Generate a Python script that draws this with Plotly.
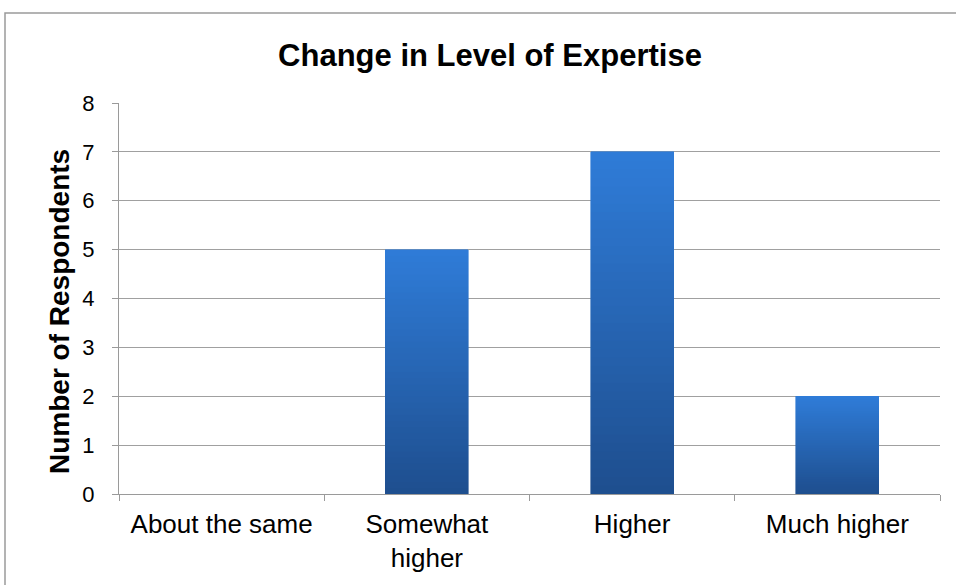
import plotly.graph_objects as go

categories = ["About the same", "Somewhat<br>higher", "Higher", "Much higher"]
respondents = [0, 5, 7, 2]
y_ticks = [0, 1, 2, 3, 4, 5, 6, 7, 8]

title_text = "Change in Level of Expertise"
y_title = "Number of Respondents"

FONT = "Liberation Sans, Arial, sans-serif"
top_rgb = (47, 124, 216)
bottom_rgb = (30, 78, 142)
N = 40

fig = go.Figure()
for k in range(N):
    t = (k + 0.5) / N
    c = tuple(round(bottom_rgb[i] + (top_rgb[i] - bottom_rgb[i]) * t) for i in range(3))
    col = "rgb(%d,%d,%d)" % c
    fig.add_trace(go.Bar(
        x=categories,
        y=[v / N for v in respondents],
        marker=dict(color=col, line=dict(color=col, width=0.6)),
        showlegend=False,
        hoverinfo="skip",
    ))

# plot-area pixel geometry
W, H = 956, 585
L, R, T, B = 119, 16, 103, 91
pw, ph = W - L - R, H - T - B

def px_x(p):
    return (p - L) / pw

def px_y(p):
    return (H - B - p) / ph

fig.update_layout(
    width=W, height=H,
    margin=dict(l=L, r=R, t=T, b=B, autoexpand=False),
    barmode="stack",
    bargap=0.595,
    plot_bgcolor="white",
    paper_bgcolor="white",
    font=dict(family=FONT, color="black"),
    title=dict(text="<b>%s</b>" % title_text, x=(490 - L) / pw, xref="paper", xanchor="center",
               y=1 - 55 / H, yanchor="middle", font=dict(size=31, family=FONT, color="black")),
    xaxis=dict(
        type="category",
        showgrid=False,
        showline=True, linecolor="#9a9a9a", linewidth=1,
        ticks="outside", tickson="boundaries", ticklen=6, tickcolor="#9a9a9a",
        tickfont=dict(size=26, family=FONT, color="black"),
        ticklabelstandoff=7,
        range=[-0.5, 3.5],
    ),
    yaxis=dict(
        range=[0, 8],
        tickvals=y_ticks,
        showgrid=True, gridcolor="#a0a0a0", gridwidth=1,
        showline=True, linecolor="#9a9a9a", linewidth=1,
        ticks="outside", ticklen=6, tickcolor="#9a9a9a",
        tickfont=dict(size=22, family=FONT, color="black"),
        ticklabelstandoff=13,
        zeroline=False,
    ),
    annotations=[dict(text="<b>%s</b>" % y_title, xref="paper", yref="paper",
                      x=px_x(59), y=px_y(312), xanchor="center", yanchor="middle",
                      textangle=-90, showarrow=False,
                      font=dict(size=28, family=FONT, color="black"))],
    shapes=[dict(type="rect", xref="paper", yref="paper",
                 x0=px_x(5), x1=px_x(965), y0=px_y(595), y1=px_y(13),
                 line=dict(color="#9a9a9a", width=1.5), fillcolor="rgba(0,0,0,0)", layer="below")],
)

fig.write_html("out.html", config={"displayModeBar": False},
               post_script="document.body.style.margin='0';document.body.style.overflow='hidden';")
